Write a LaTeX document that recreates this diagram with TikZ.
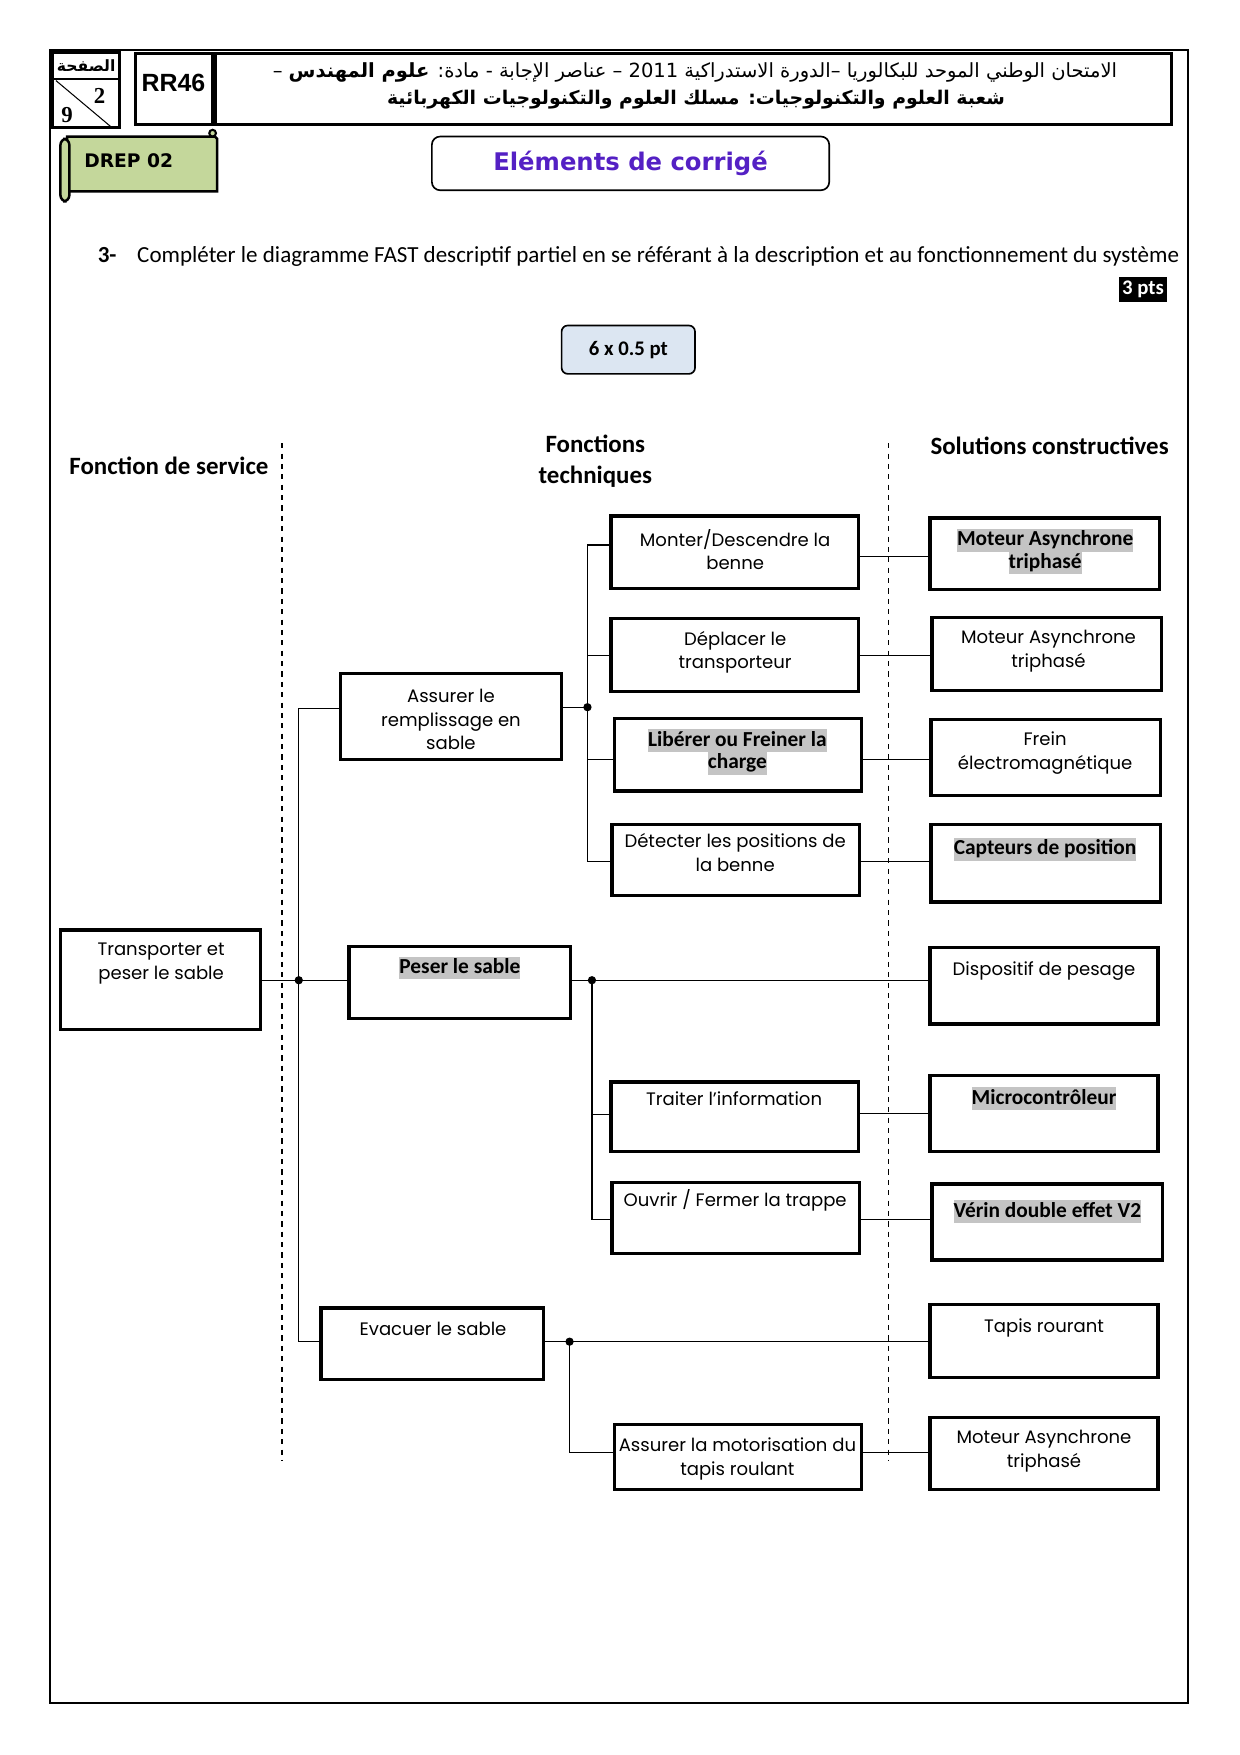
\documentclass[tikz,border=0pt]{standalone}
\usepackage{fontspec}
\usetikzlibrary{fit}
\TeXXeTstate=1
\setmainfont{Poppins}
\newfontfamily\calfont{Carlito}
\newfontfamily\arialfont{Liberation Sans}
\newfontfamily\verdfont{DejaVu Sans}
\newfontfamily\timesfont{Liberation Serif}
\newfontfamily\arabicfont[Script=Arabic]{DejaVu Sans}
\definecolor{hlgray}{RGB}{196,196,196}
\definecolor{drepgreen}{RGB}{196,215,155}
\definecolor{titlepurple}{RGB}{84,32,196}
\definecolor{ptsblue}{RGB}{220,230,242}
\newcommand\hl[1]{{\setlength\fboxsep{0pt}\colorbox{hlgray}{\rule[-2.8pt]{0pt}{11pt}#1}}}

\begin{document}
\begin{tikzpicture}[x=0.01895cm,y=-0.01895cm]
\tikzset{fbox/.style={draw,line width=1.6pt,inner sep=0pt},
  ftxt/.style={font=\fontsize{8.7}{11.3}\selectfont,align=center,inner sep=0pt},
  fbold/.style={font=\calfont\bfseries\fontsize{10.3}{11}\selectfont,align=center,inner sep=0pt},
  link/.style={line width=0.6pt},
  sep/.style={dash pattern=on 2.5pt off 2.5pt,line width=0.6pt},
  head/.style={font=\calfont\bfseries\fontsize{12}{15}\selectfont,align=center,inner sep=0pt}}
\useasboundingbox (0,0) rectangle (1108.1,1568.4);
\draw[line width=1pt] (45,45) rectangle (1062,1522);

\draw[line width=1.6pt] (47,47) rectangle (107,114); \draw[line width=1.2pt] (47,70.5) -- (107,70.5);
\draw[line width=0.5pt] (50,72) -- (100,114);
\node[font=\arabicfont\bfseries\fontsize{7.5}{8}\selectfont] (pg) at (77,59) {\beginR الصفحة\endR};
\node[font=\timesfont\bfseries\fontsize{11}{12}\selectfont] (pgnum) at (89,86) {2};
\node[font=\timesfont\bfseries\fontsize{11}{12}\selectfont] (pgtot) at (60,103) {9};
\draw[line width=1.6pt] (121,48) rectangle (190,111);
\node[font=\arialfont\bfseries\fontsize{12}{14}\selectfont] (rr) at (155,74) {RR46};
\draw[line width=1.6pt] (192,48) rectangle (1047,111);
\node[font=\arabicfont\fontsize{9.4}{10}\selectfont] (ar1) at (621,65) {\beginR الامتحان الوطني الموحد للبكالوريا –الدورة الاستدراكية \beginL 2011\endL{} – عناصر الإجابة - مادة: \textbf{علوم المهندس} –\endR};
\node[font=\arabicfont\bfseries\fontsize{9.1}{12}\selectfont] (ar2) at (622,89) {\beginR شعبة العلوم والتكنولوجيات: مسلك العلوم والتكنولوجيات الكهربائية\endR};

\draw[line width=1.2pt,fill=drepgreen] (60,122) -- (192,122) -- (194,124) -- (194,171) -- (60,171) -- cycle;
\draw[line width=1.2pt,fill=drepgreen,rounded corners=3pt] (54,124) rectangle (62,180);
\draw[line width=1pt,fill=drepgreen] (190,119) circle[radius=3];
\node[font=\verdfont\bfseries\fontsize{9}{11}\selectfont] (drep) at (115,144) {DREP 02};
\node[draw,line width=0.8pt,rounded corners=4pt,minimum width=6.73cm,minimum height=0.91cm,text=titlepurple,font=\verdfont\bfseries\fontsize{11.7}{13}\selectfont] (titre) at (563.5,146) {Eléments de corrigé};

\node[anchor=west,inner sep=0pt,font=\calfont\fontsize{11.1}{13}\selectfont] (q3) at (87,229) {\textbf{3-}\hspace{0.9em}Compléter le diagramme FAST descriptif partiel en se référant à la description et au fonctionnement du système};
\node[fill=black,text=white,inner sep=0pt,minimum width=0.82cm,minimum height=0.42cm,font=\calfont\bfseries\fontsize{10}{12}\selectfont] (pts) at (1021.5,259) {3 pts};
\node[draw,fill=ptsblue,line width=0.8pt,rounded corners=3pt,minimum width=2.26cm,minimum height=0.82cm,font=\calfont\bfseries\fontsize{10}{12}\selectfont] (bareme) at (561.5,312.5) {6 x 0.5 pt};

\node[head] (fs) at (151,416) {Fonction de service};
\node[head] (ft) at (532,412) {Fonctions\\techniques};
\node[head] (sc) at (938,398) {Solutions constructives};
\draw[sep] (252,396) -- (252,1306); \draw[sep] (794,396) -- (794,1306);

\foreach \n/\a/\b/\c/\d in {tps/54/831/233/920, ass/304/602/502/679, pes/312/846/510/910, eva/287/1169/486/1233,
  mon/546/461/767/526, dep/546/553/767/618, lib/549/642/770/707, det/547/737/768/800,
  tra/546/967/767/1029, ouv/547/1057/768/1120, mot/549/1273/770/1331,
  sola/831/463/1036/527, solb/833/552/1038/617, solc/832/643/1037/711, sold/832/737/1037/806,
  sole/831/847/1035/915, solf/831/961/1035/1029, solg/833/1058/1039/1126, solh/831/1166/1035/1231, soli/831/1267/1035/1331}
  \node[fbox,fit={(\a,\b) (\c,\d)}] (\n) {};

\node[ftxt] (tps-t) at (144,861) {Transporter et\\peser le sable};
\node[ftxt] (ass-t) at (403,643) {Assurer le\\remplissage en\\sable};
\node[fbold] (pes-t) at (411,865) {\hl{Peser le sable}};
\node[ftxt] (eva-t) at (387,1188) {Evacuer le sable};
\node[ftxt] (mon-t) at (657,491) {Monter/Descendre la\\benne};
\node[ftxt] (dep-t) at (657,583) {Déplacer le\\transporteur};
\node[fbold] (lib-t) at (659,672) {\hl{Libérer ou Freiner la}\\\hl{charge}};
\node[ftxt] (det-t) at (657,762) {Détecter les positions de\\la benne};
\node[ftxt] (tra-t) at (656,982) {Traiter l’information};
\node[ftxt] (ouv-t) at (657,1073) {Ouvrir / Fermer la trappe};
\node[ftxt] (mot-t) at (659,1304) {Assurer la motorisation du\\tapis roulant};
\node[fbold] (sola-t) at (934,493) {\hl{Moteur Asynchrone}\\\hl{triphasé}};
\node[ftxt] (solb-t) at (937,582) {Moteur Asynchrone\\triphasé};
\node[ftxt] (solc-t) at (934,673) {Frein\\électromagnétique};
\node[fbold] (sold-t) at (934,759) {\hl{Capteurs de position}};
\node[ftxt] (sole-t) at (933,868) {Dispositif de pesage};
\node[fbold] (solf-t) at (933,982) {\hl{Microcontrôleur}};
\node[fbold] (solg-t) at (936,1083) {\hl{Vérin double effet V2}};
\node[ftxt] (solh-t) at (933,1187) {Tapis rourant};
\node[ftxt] (soli-t) at (933,1297) {Moteur Asynchrone\\triphasé};

\coordinate (j0) at (267,876); \coordinate (j1) at (525,632); \coordinate (j2) at (529,876); \coordinate (j3) at (509,1199);
\draw[link] (tps.east |- j0) -- (j0) -- (pes.west |- j0);
\draw[link] (ass.west |- 0,633) -- (j0 |- 0,633) -- (j0 |- 0,1199) -- (eva.west |- 0,1199);
\draw[link] (ass.east |- j1) -- (j1);
\draw[link] (mon.west |- 0,487) -- (j1 |- 0,487) -- (j1 |- 0,770) -- (det.west |- 0,770);
\draw[link] (dep.west |- 0,586) -- (j1 |- 0,586); \draw[link] (lib.west |- 0,679) -- (j1 |- 0,679);
\draw[link] (pes.east |- j2) -- (j2) -- (sole.west |- j2);
\draw[link] (j2) -- (j2 |- 0,1090) -- (ouv.west |- 0,1090); \draw[link] (tra.west |- 0,996) -- (j2 |- 0,996);
\draw[link] (eva.east |- j3) -- (j3) -- (solh.west |- j3);
\draw[link] (j3) -- (j3 |- 0,1298) -- (mot.west |- 0,1298);
\draw[link] (mon.east |- 0,497) -- (sola.west |- 0,497); \draw[link] (dep.east |- 0,586) -- (solb.west |- 0,586);
\draw[link] (lib.east |- 0,679) -- (solc.west |- 0,679); \draw[link] (det.east |- 0,770) -- (sold.west |- 0,770);
\draw[link] (tra.east |- 0,995) -- (solf.west |- 0,995); \draw[link] (ouv.east |- 0,1090) -- (solg.west |- 0,1090);
\draw[link] (mot.east |- 0,1298) -- (soli.west |- 0,1298);
\foreach \j in {j0,j1,j2,j3} \fill (\j) circle[radius=2pt];
\end{tikzpicture}
\end{document}
